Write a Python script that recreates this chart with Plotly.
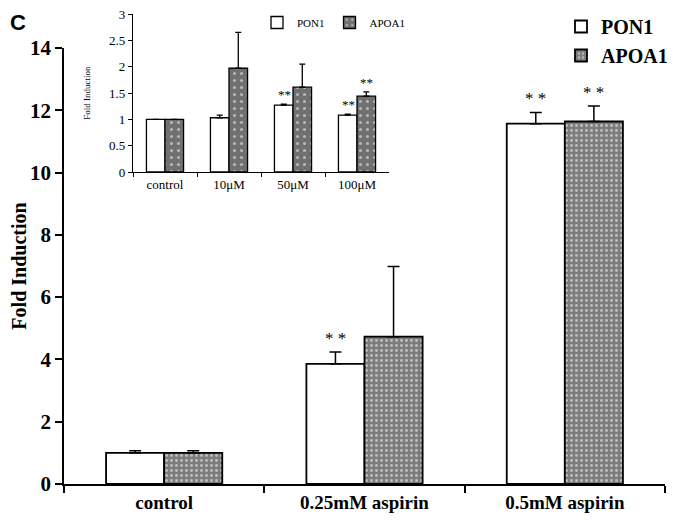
import plotly.graph_objects as go

# Main chart data
categories = ["control", "0.25mM aspirin", "0.5mM aspirin"]
pon1 = [1.0, 3.86, 11.57]
pon1_err = [0.07, 0.38, 0.36]
apoa1 = [1.0, 4.73, 11.64]
apoa1_err = [0.07, 2.25, 0.50]
pon1_sig = ["", "**", "**"]
apoa1_sig = ["", "", "**"]

# Inset data
inset_categories = ["control", "10\u03bcM", "50\u03bcM", "100\u03bcM"]
inset_pon1 = [1.0, 1.03, 1.27, 1.08]
inset_pon1_err = [0.0, 0.05, 0.02, 0.02]
inset_apoa1 = [1.0, 1.97, 1.61, 1.44]
inset_apoa1_err = [0.0, 0.68, 0.44, 0.08]
inset_pon1_sig = ["", "", "**", "**"]
inset_apoa1_sig = ["", "", "", "**"]

SERIF = "Liberation Serif"
L, R, T, B = 56, 18, 0, 44
PW, PH = 675 - L - R, 520 - T - B  # plot area size in px

fig = go.Figure()

fig.add_trace(go.Bar(
    x=categories, y=pon1, name="<b>PON1</b>",
    marker=dict(color="white", line=dict(color="black", width=1.8)),
    error_y=dict(type="data", symmetric=False, array=pon1_err,
                 arrayminus=[0]*len(pon1), color="black", thickness=1.5, width=6),
    xaxis="x", yaxis="y", legend="legend",
))
fig.add_trace(go.Bar(
    x=categories, y=apoa1, name="<b>APOA1</b>",
    marker=dict(color="#7c7c7c", line=dict(color="black", width=1.8),
                pattern=dict(shape=".", fgcolor="#ffffff", size=5, solidity=0.28)),
    error_y=dict(type="data", symmetric=False, array=apoa1_err,
                 arrayminus=[0]*len(apoa1), color="black", thickness=1.5, width=6),
    xaxis="x", yaxis="y", legend="legend",
))

fig.add_trace(go.Bar(
    x=inset_categories, y=inset_pon1, name="PON1",
    marker=dict(color="white", line=dict(color="black", width=1.3)),
    error_y=dict(type="data", symmetric=False, array=inset_pon1_err,
                 arrayminus=[0]*len(inset_pon1), color="black", thickness=1.3, width=3),
    xaxis="x2", yaxis="y2", legend="legend2",
))
fig.add_trace(go.Bar(
    x=inset_categories, y=inset_apoa1, name="APOA1",
    marker=dict(color="#707070", line=dict(color="black", width=1.3),
                pattern=dict(shape=".", fgcolor="#ffffff", size=7, solidity=0.15)),
    error_y=dict(type="data", symmetric=False, array=inset_apoa1_err,
                 arrayminus=[0]*len(inset_apoa1), color="black", thickness=1.3, width=3),
    xaxis="x2", yaxis="y2", legend="legend2",
))

annotations = []
star_main = dict(family=SERIF, size=17, color="black")
star_inset = dict(family=SERIF, size=13, color="black")
for c, v, e, s in zip(categories, pon1, pon1_err, pon1_sig):
    if s:
        annotations.append(dict(x=c, y=v + e, xref="x", yref="y", text=" ".join(s), showarrow=False,
                                xshift=-29, yshift=2, yanchor="bottom", font=star_main))
for c, v, e, s in zip(categories, apoa1, apoa1_err, apoa1_sig):
    if s:
        annotations.append(dict(x=c, y=v + e, xref="x", yref="y", text=" ".join(s), showarrow=False,
                                xshift=29, yshift=2, yanchor="bottom", font=star_main))
for c, v, e, s in zip(inset_categories, inset_pon1, inset_pon1_err, inset_pon1_sig):
    if s:
        annotations.append(dict(x=c, y=v + e, xref="x2", yref="y2", text=s, showarrow=False,
                                xshift=-9, yshift=0, yanchor="bottom", font=star_inset))
for c, v, e, s in zip(inset_categories, inset_apoa1, inset_apoa1_err, inset_apoa1_sig):
    if s:
        annotations.append(dict(x=c, y=v + e, xref="x2", yref="y2", text=s, showarrow=False,
                                xshift=9, yshift=0, yanchor="bottom", font=star_inset))

annotations.append(dict(x=-L/PW, y=1.0, xref="paper", yref="paper", text="<b>C</b>",
                        showarrow=False, xanchor="left", yanchor="top",
                        font=dict(family="Liberation Sans", size=22, color="black")))

fig.update_layout(
    width=675, height=520,
    margin=dict(l=L, r=R, t=T, b=B, autoexpand=False),
    paper_bgcolor="white", plot_bgcolor="white",
    barmode="group", bargap=0.42, bargroupgap=0,
    font=dict(family=SERIF, color="black"),
    annotations=annotations,
    xaxis=dict(domain=[0, 1], type="category", range=[-0.5, 2.5], showline=True,
               linecolor="black", linewidth=1.5, ticks="outside", tickson="boundaries",
               ticklen=7, tickwidth=1.5, tickcolor="black", showgrid=False,
               automargin=False,
               tickfont=dict(family=SERIF, size=19, color="black"),
               tickprefix="<b>", ticksuffix="</b>", anchor="y"),
    yaxis=dict(domain=[0, 436/PH], range=[0, 14], dtick=2, showline=True,
               linecolor="black", linewidth=1.5, ticks="outside", ticklen=7,
               tickwidth=1.5, tickcolor="black", showgrid=False, zeroline=False,
               automargin=False,
               tickfont=dict(family=SERIF, size=21, color="black"),
               tickprefix="<b>", ticksuffix="</b>",
               title=dict(text="<b>Fold Induction</b>", standoff=18,
                          font=dict(family=SERIF, size=20, color="black")),
               anchor="x"),
    xaxis2=dict(domain=[69/PW, 325/PW], type="category", range=[-0.5, 3.5],
                showline=True, linecolor="black", linewidth=1.2, ticks="outside",
                tickson="boundaries", ticklen=4, tickwidth=1.2, tickcolor="black",
                showgrid=False, automargin=False,
                tickfont=dict(family=SERIF, size=13, color="black"),
                anchor="y2"),
    yaxis2=dict(domain=[312/PH, 470/PH], range=[0, 3], dtick=0.5, showline=True,
                linecolor="black", linewidth=1.2, ticks="outside", ticklen=4,
                tickwidth=1.2, tickcolor="black", showgrid=False, zeroline=False,
                automargin=False, ticklabeloverflow="allow",
                tickfont=dict(family=SERIF, size=13, color="black"),
                title=dict(text="Fold Induction", standoff=16,
                           font=dict(family=SERIF, size=9, color="black")),
                anchor="x2"),
    legend=dict(x=497/PW, y=1 + 1/PH, xanchor="left", yanchor="top",
                bgcolor="rgba(0,0,0,0)", tracegroupgap=0, itemwidth=30,
                font=dict(family=SERIF, size=20, color="black")),
    legend2=dict(orientation="h", x=193/PW, y=1.0, xanchor="left", yanchor="top",
                 bgcolor="rgba(0,0,0,0)", itemwidth=30,
                 font=dict(family=SERIF, size=11, color="black")),
)

fig.write_html("out.html")
